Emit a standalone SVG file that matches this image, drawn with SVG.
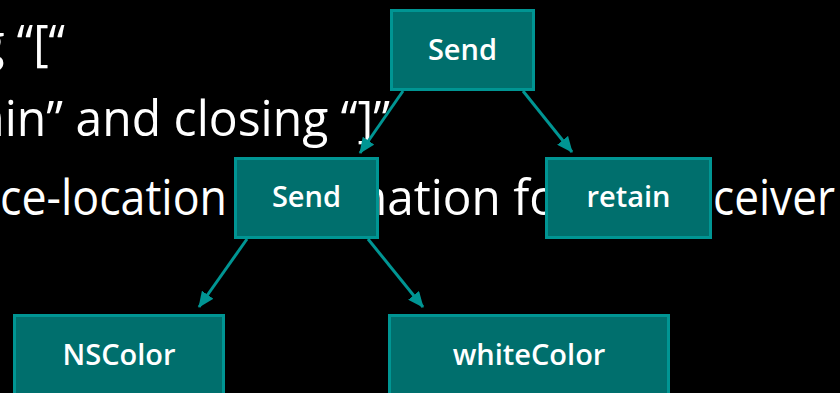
<svg xmlns="http://www.w3.org/2000/svg" width="840" height="393" viewBox="0 0 840 393">
<defs>
<style>
.bg{font-family:"Open Sans","Noto Sans",sans-serif;font-size:49px;fill:#ffffff}
.box{fill:#006f6d;stroke:#009593;stroke-width:3}
.lbl{font-family:"Open Sans","Noto Sans",sans-serif;font-size:29px;font-weight:600;fill:#ffffff;text-anchor:middle}
.edge{stroke:#009593;stroke-width:3;fill:none}
</style>
<marker id="ah" viewBox="0 0 16 14" refX="15" refY="7" markerWidth="16" markerHeight="14" markerUnits="userSpaceOnUse" orient="auto">
<path d="M0,0 L16,7 L0,14 Z" fill="#009593"/>
</marker>
</defs>
<rect x="0" y="0" width="840" height="393" fill="#000000"/>
<g id="slide-text">
<text class="bg" x="-21" y="60" textLength="86" lengthAdjust="spacingAndGlyphs">g “[“</text>
<text class="bg" x="-22" y="136" textLength="412" lengthAdjust="spacingAndGlyphs">ain” and closing “]”</text>
<text class="bg" x="0" y="215" textLength="227" lengthAdjust="spacingAndGlyphs">ce-location</text>
<text class="bg" x="358" y="215" textLength="200" lengthAdjust="spacingAndGlyphs">nation fo</text>
<text class="bg" x="713" y="215" textLength="122" lengthAdjust="spacingAndGlyphs">ceiver</text>
</g>
<g id="connectors">
<path class="edge" d="M403,91 L360,153" marker-end="url(#ah)"/>
<path class="edge" d="M523,91 L572,152" marker-end="url(#ah)"/>
<path class="edge" d="M247,239 L199,307" marker-end="url(#ah)"/>
<path class="edge" d="M368,239 L423,307" marker-end="url(#ah)"/>
</g>
<g id="node-send-top">
<rect class="box" x="391.5" y="10.5" width="142" height="79"/>
<text class="lbl" x="462.5" y="60">Send</text>
</g>
<g id="node-send-mid">
<rect class="box" x="235.5" y="158.5" width="142" height="79"/>
<text class="lbl" x="306.5" y="207">Send</text>
</g>
<g id="node-retain">
<rect class="box" x="546.5" y="158.5" width="164" height="79"/>
<text class="lbl" x="628.5" y="207">retain</text>
</g>
<g id="node-nscolor">
<rect class="box" x="14.5" y="315.5" width="209" height="79"/>
<text class="lbl" x="119" y="365">NSColor</text>
</g>
<g id="node-whitecolor">
<rect class="box" x="389.5" y="315.5" width="279" height="79"/>
<text class="lbl" x="529" y="365">whiteColor</text>
</g>
</svg>
